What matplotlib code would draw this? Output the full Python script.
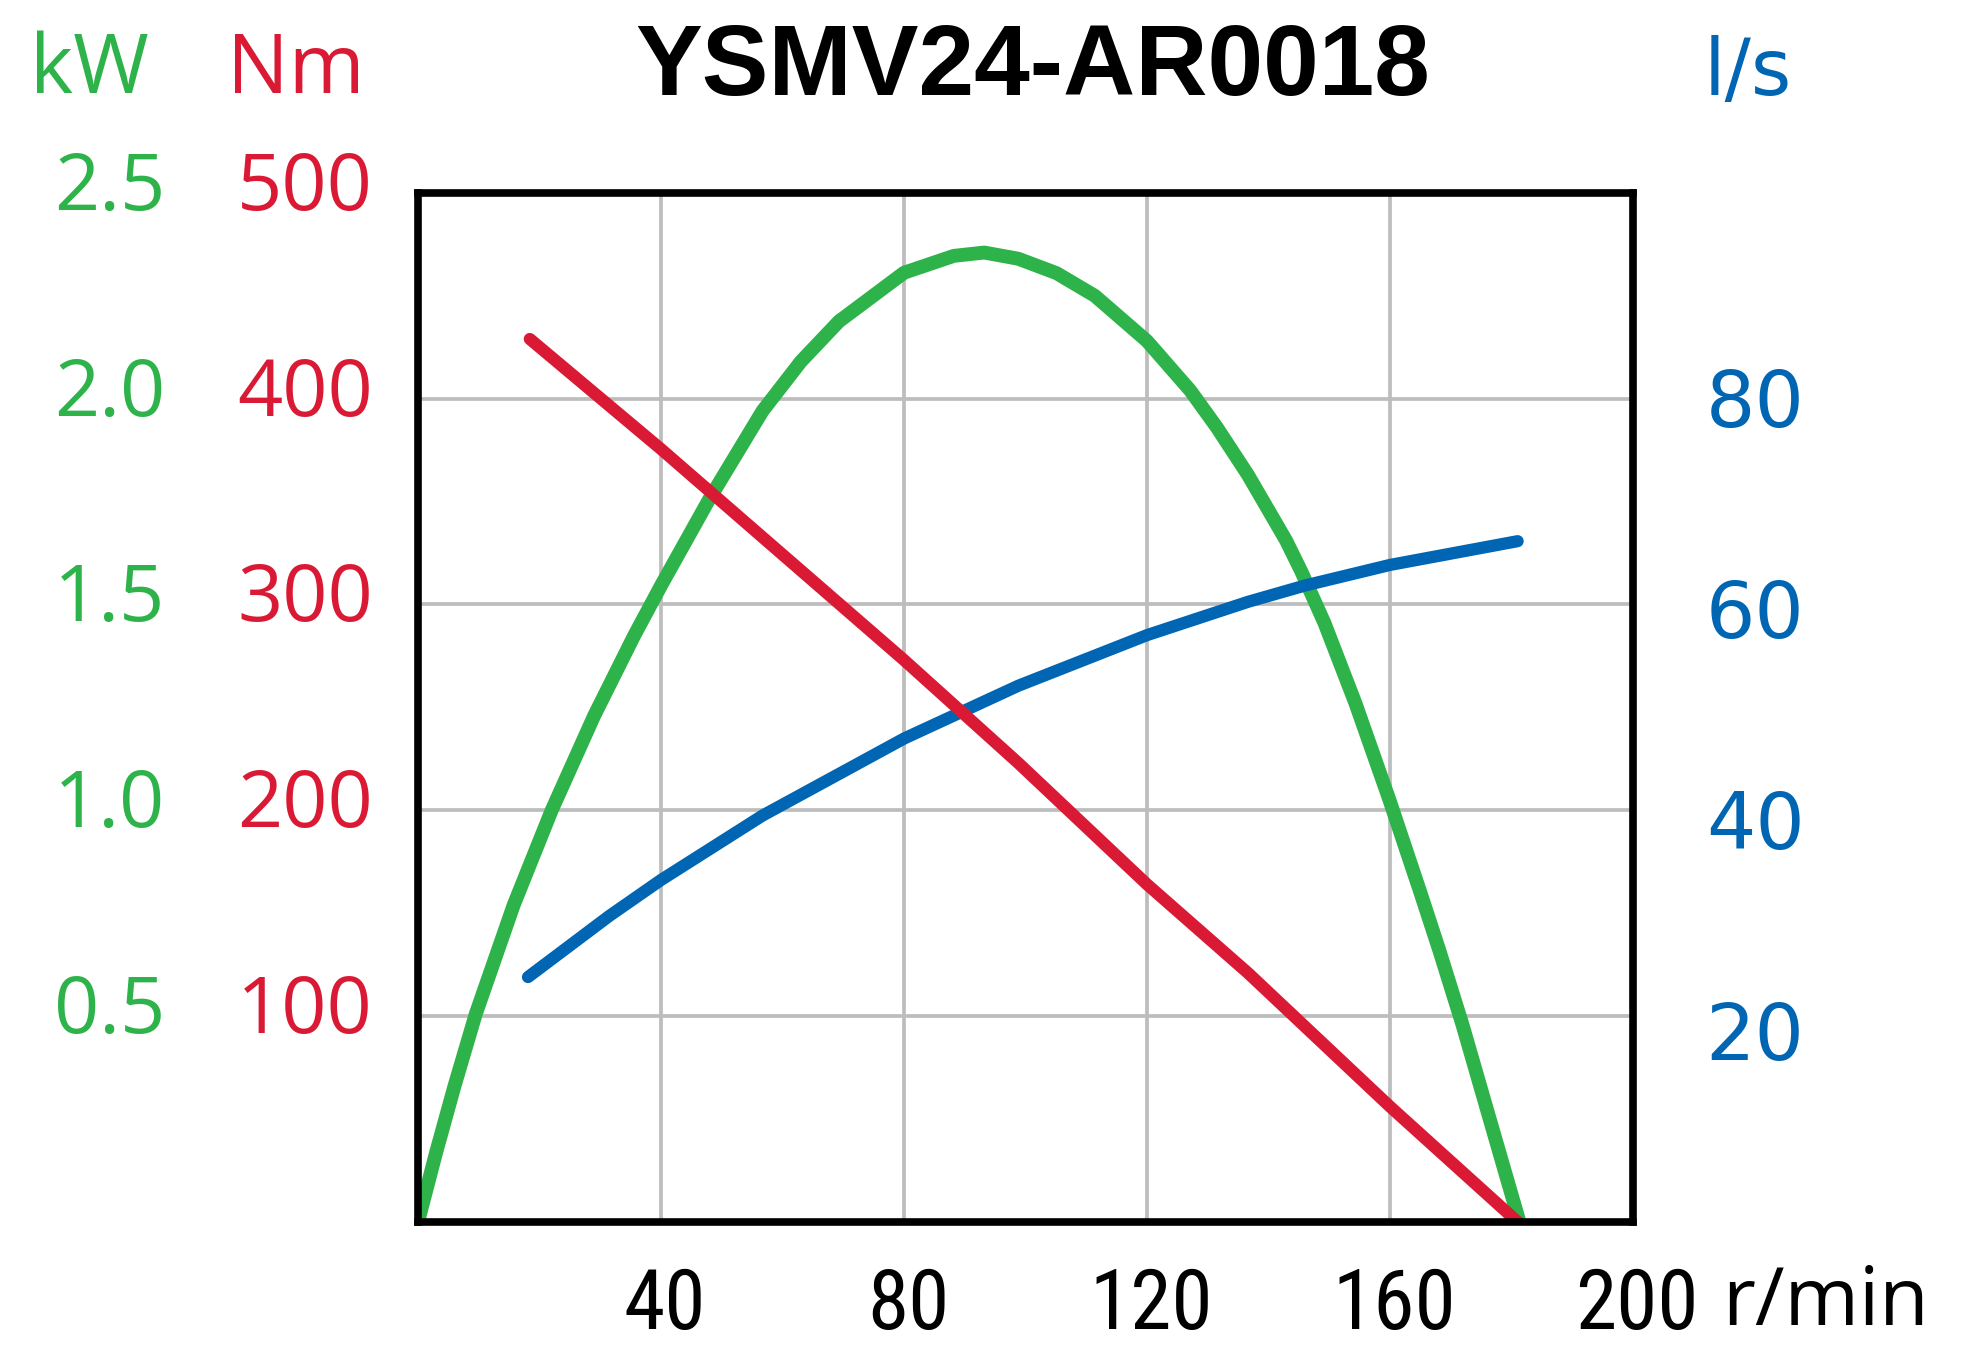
import matplotlib
matplotlib.use('Agg')
import matplotlib.pyplot as plt
import matplotlib.transforms as mtransforms
from matplotlib import font_manager

# curve readings (speed in r/min)
power_speed = [0, 3, 6, 9.5, 15.75, 22, 29, 35.6, 40, 47.9, 56.7, 63, 69.3, 80,
               88.2, 93.2, 98.8, 105.1, 111.4, 120, 127.1, 131.5, 136.6, 142.9, 145.4,
               149.2, 154.3, 159.9, 165, 168.1, 171.9, 176.3, 181.3]
power_kw = [0, 0.17, 0.33, 0.505, 0.77, 1.0, 1.23, 1.425, 1.546, 1.755, 1.97, 2.09, 2.188,
            2.306, 2.347, 2.355, 2.34, 2.305, 2.25, 2.14, 2.02, 1.93, 1.815, 1.655, 1.58,
            1.455, 1.26, 1.025, 0.8, 0.66, 0.48, 0.255, 0]

torque_speed = [18.4, 40, 80, 98.8, 120, 136.6, 160, 181]
torque_nm = [429, 375.5, 273, 223, 164, 121, 56, 0]

flow_speed = [18.1, 31.5, 40, 56.7, 80, 98.8, 120, 136.6, 146, 160, 181]
flow_ls = [25.1, 30.9, 34.3, 40.4, 47.7, 52.7, 57.5, 60.65, 62.2, 64.15, 66.4]

speed_ticks = [40, 80, 120, 160, 200]
torque_ticks = [100, 200, 300, 400, 500]
power_ticks = [0.5, 1.0, 1.5, 2.0, 2.5]
flow_ticks = [20, 40, 60, 80]

title = 'YSMV24-AR0018'

GREEN = '#2db34a'
RED = '#da1a35'
BLUE = '#0066b3'
GRID = '#bdbdbd'


def narrow_font():
    # look for a condensed sans face, regular weight
    prefs = ['liberationsansnarrow-regular', 'opensans_condensed-regular',
             'opensanscondensed', 'robotocondensed-regular', 'dejavusanscondensed.ttf',
             'notosans-condensed', 'notosanscondensed']
    files = [f.fname for f in font_manager.fontManager.ttflist]
    for p in prefs:
        for fn in files:
            if p in fn.lower().replace(' ', '').replace('_', ''). replace('-', '') or \
               p.replace('-', '') in fn.lower().replace('-', '').replace('_', ''):
                return font_manager.FontProperties(fname=fn)
    for fn in files:
        low = fn.lower()
        if ('condensed' in low or 'narrow' in low) and 'bold' not in low \
                and 'italic' not in low and 'light' not in low and 'semi' not in low:
            return font_manager.FontProperties(fname=fn)
    return font_manager.FontProperties(family='Open Sans')


fig = plt.figure(figsize=(19.69, 13.45), dpi=100)
ax = fig.add_axes([0.2123, 0.0915, 0.6171, 0.7651])
ax_kw = ax.twinx()
ax_ls = ax.twinx()

ax.set_xlim(0, 200)
ax.set_ylim(0, 500)
ax_kw.set_ylim(0, 2.5)
ax_ls.set_ylim(1.9, 99.4)
ax_kw.set_axis_off()
ax_ls.set_axis_off()

# grid
for v in speed_ticks[:-1]:
    ax.axvline(v, color=GRID, lw=2.7, zorder=1)
for v in torque_ticks[:-1]:
    ax.axhline(v, color=GRID, lw=2.7, zorder=1)

ax.plot(power_speed, power_kw, color=GREEN, lw=10, transform=ax_kw.transData,
        zorder=3, solid_capstyle='butt', solid_joinstyle='round')
ax.plot(flow_speed, flow_ls, color=BLUE, lw=8.8, transform=ax_ls.transData,
        zorder=4, solid_capstyle='round', solid_joinstyle='round')
ax.plot(torque_speed, torque_nm, color=RED, lw=8.8, zorder=5,
        solid_capstyle='round', solid_joinstyle='round')

ax.set_xticks([])
ax.set_yticks([])
for s in ax.spines.values():
    s.set_linewidth(5.5)
    s.set_zorder(6)

# tick labels
ytrans = ax.get_yaxis_transform()
for nm, kw in zip(torque_ticks, power_ticks):
    t = mtransforms.offset_copy(ytrans, fig=fig, y=-17, units='dots')
    ax.text(-0.037, nm, str(nm), transform=t, ha='right', va='baseline',
            color=RED, fontsize=57, family='Open Sans')
    ax.text(-0.208, nm, f'{kw:.1f}', transform=t, ha='right', va='baseline',
            color=GREEN, fontsize=57, family='Open Sans')

ls_trans = mtransforms.blended_transform_factory(ax.transAxes, ax_ls.transData)
ls_trans = mtransforms.offset_copy(ls_trans, fig=fig, y=-29, units='dots')
for v in flow_ticks:
    ax.text(1.1004, v, str(v), transform=ls_trans, ha='center', va='baseline',
            color=BLUE, fontsize=56, family='DejaVu Sans')

xfont = narrow_font()
xfont.set_size(60)
xtrans = mtransforms.offset_copy(ax.get_xaxis_transform(), fig=fig, x=4, units='dots')
for v in speed_ticks:
    ax.text(v, -0.104, str(v), transform=xtrans, ha='center', va='baseline',
            color='black', fontproperties=xfont)

# units and title
fig.text(0.0455, 0.9309, 'kW', color=GREEN, fontsize=59, family='Open Sans',
         ha='center', va='baseline')
fig.text(0.1501, 0.9309, 'Nm', color=RED, fontsize=59, family='Open Sans',
         ha='center', va='baseline')
fig.text(0.8878, 0.929, 'l/s', color=BLUE, fontsize=56, family='DejaVu Sans',
         ha='center', va='baseline')
fig.text(0.9269, 0.0145, 'r/min', color='black', fontsize=58, family='Open Sans',
         ha='center', va='baseline')
fig.text(0.5246, 0.9294, title, color='black', fontsize=72, family='Liberation Sans',
         weight='bold', ha='center', va='baseline')

fig.savefig('out.png', dpi=100, facecolor='white')
